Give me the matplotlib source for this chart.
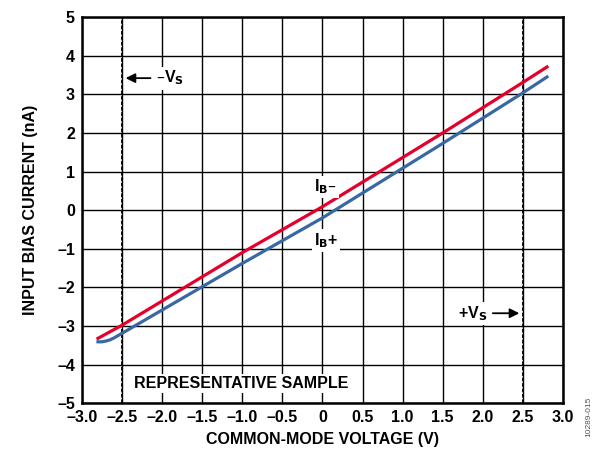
import numpy as np
import matplotlib
matplotlib.use('Agg')
import matplotlib.pyplot as plt

plt.rcParams['font.family'] = ['Liberation Sans', 'DejaVu Sans']
plt.rcParams['font.weight'] = 'bold'

# IB- (red) and IB+ (blue)
vcm_neg = [-2.8, -2.5, -1.0, 0.0, 1.5, 2.5, 2.8]
ib_neg = [-3.32, -2.98, -1.10, 0.09, 2.00, 3.31, 3.71]

vcm_pos = [-2.8, -2.75, -2.7, -2.65, -2.6, -2.55, -2.5, -1.0, 0.0, 1.5, 2.5, 2.8]
ib_pos = [-3.41, -3.41, -3.39, -3.36, -3.31, -3.25, -3.19, -1.38, -0.20, 1.73, 3.04, 3.45]

xticks = [-3.0, -2.5, -2.0, -1.5, -1.0, -0.5, 0, 0.5, 1.0, 1.5, 2.0, 2.5, 3.0]
xlabels = ['–3.0', '–2.5', '–2.0', '–1.5', '–1.0', '–0.5', '0', '0.5', '1.0', '1.5', '2.0', '2.5', '3.0']
yticks = [-5, -4, -3, -2, -1, 0, 1, 2, 3, 4, 5]
ylabels = ['–5', '–4', '–3', '–2', '–1', '0', '1', '2', '3', '4', '5']

fs = 11.5

fig = plt.figure(figsize=(5.98, 4.51), dpi=100)
ax = fig.add_axes([0.137, 0.106, 0.8045, 0.856])

ax.set_xlim(-3, 3)
ax.set_ylim(-5, 5)
ax.set_xticks(xticks)
ax.set_xticklabels(xlabels, fontsize=fs, fontweight='bold')
ax.set_yticks(yticks)
ax.set_yticklabels(ylabels, fontsize=fs, fontweight='bold')
ax.tick_params(length=0, pad=5)
ax.grid(True, color='black', linewidth=1.0)
for s in ax.spines.values():
    s.set_linewidth(1.8)

ax.axvline(-2.5, color='black', linestyle=(0, (2, 1)), linewidth=1.3, zorder=2)
ax.axvline(2.5, color='black', linestyle=(0, (2, 1)), linewidth=1.3, zorder=2)

ax.plot(vcm_neg, ib_neg, color='#e4002b', linewidth=2.3, zorder=4)
ax.plot(vcm_pos, ib_pos, color='#3868a4', linewidth=2.3, zorder=3)

box = dict(facecolor='white', edgecolor='none', pad=1.5)
ax.annotate('', xy=(-2.49, 3.42), xytext=(-2.11, 3.42),
            arrowprops=dict(arrowstyle='-|>', color='black', lw=1.3, mutation_scale=14), zorder=5)
ax.text(-2.07, 3.42, '–V$_\\mathbf{S}$', fontsize=fs, fontweight='bold', va='center', ha='left', bbox=box, zorder=5)
ax.annotate('', xy=(2.49, -2.67), xytext=(2.09, -2.67),
            arrowprops=dict(arrowstyle='-|>', color='black', lw=1.3, mutation_scale=14), zorder=5)
ax.text(2.05, -2.67, '+V$_\\mathbf{S}$', fontsize=fs, fontweight='bold', va='center', ha='right', bbox=box, zorder=5)
ax.text(-0.11, 0.6, 'I$_\\mathbf{B}$–', fontsize=fs, fontweight='bold', va='center', ha='left', bbox=box, zorder=5)
ax.text(-0.11, -0.78, 'I$_\\mathbf{B}$+', fontsize=fs, fontweight='bold', va='center', ha='left', bbox=box, zorder=5)
ax.text(-2.35, -4.48, 'REPRESENTATIVE SAMPLE', fontsize=fs, fontweight='bold', va='center', ha='left', bbox=box, zorder=5)

ax.set_xlabel('COMMON-MODE VOLTAGE (V)', fontsize=fs, fontweight='bold', labelpad=5)
ax.set_ylabel('INPUT BIAS CURRENT (nA)', fontsize=fs, fontweight='bold', labelpad=14)

fig.text(0.985, 0.03, '10289-015', rotation=90, fontsize=6, color='#555555', fontweight='normal', ha='center', va='bottom')

fig.savefig('out.png', dpi=100)
